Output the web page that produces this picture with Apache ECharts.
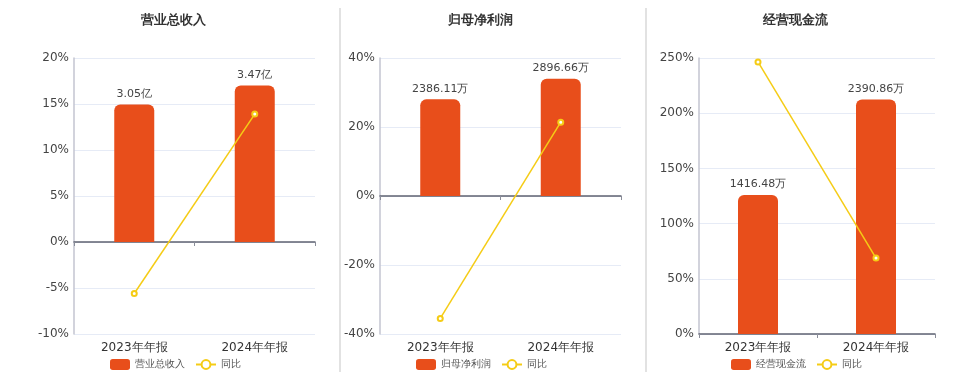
<!DOCTYPE html>
<html><head><meta charset="utf-8">
<script src="https://cdn.jsdelivr.net/npm/echarts@6/dist/echarts.min.js"></script>
<style>html,body{margin:0;padding:0;background:#fff}#c{width:960px;height:372px}</style>
</head><body><div id="c"></div>
<script>
const categories = ['2023年年报', '2024年年报'];
const titles = ['营业总收入', '归母净利润', '经营现金流'];
const units = ['亿', '万', '万'];
const revenue = [3.05, 3.47];
const netProfit = [2386.11, 2896.66];
const cashFlow = [1416.48, 2390.86];
const revenueYoY = [-5.6, 13.9];
const netProfitYoY = [-35.5, 21.4];
const cashFlowYoY = [246.4, 68.79];
const pctMin = [-10, -40, 0];
const pctMax = [20, 40, 250];
const pctInterval = [5, 20, 50];

const barData = [revenue, netProfit, cashFlow];
const yoyData = [revenueYoY, netProfitYoY, cashFlowYoY];
const grids = [{left:74,width:241},{left:380,width:241},{left:699,width:236}];
const titleX = [168, 475, 790];
const legendX = [105, 411, 726];
const BAR = '#e84e1b', LINE = '#f5cc16';
const FONT = 'DejaVu Sans';

const option = {
  animation:false,
  textStyle:{fontFamily:FONT},
  title:[], legend:[], grid:[], xAxis:[], yAxis:[], series:[],
  graphic:[
    {type:'line',shape:{x1:340,y1:8,x2:340,y2:372},style:{stroke:'#d9d9d9',lineWidth:1.5}},
    {type:'line',shape:{x1:646,y1:8,x2:646,y2:372},style:{stroke:'#d9d9d9',lineWidth:1.5}}
  ]
};

for (let i=0;i<3;i++){
  option.title.push({text:titles[i],left:titleX[i],top:9,textAlign:'center',
    textStyle:{fontSize:13,fontWeight:'bold',color:'#333',fontFamily:FONT}});
  option.legend.push({left:legendX[i],top:354,itemWidth:20,itemHeight:11,itemGap:10,
    data:[titles[i],'同比'],textStyle:{fontSize:10,color:'#555',fontFamily:FONT},
    selectedMode:false});
  option.grid.push({left:grids[i].left,width:grids[i].width,top:58,bottom:38});
  option.xAxis.push({type:'category',gridIndex:i,data:categories,
    axisLine:{show:false,onZero:false},axisTick:{show:false},
    axisLabel:{fontSize:12,color:'#333',margin:8}});
  option.xAxis.push({type:'category',gridIndex:i,data:categories,position:'bottom',
    axisLine:{show:true,onZero:true,onZeroAxisIndex:2*i,lineStyle:{color:'#5f6372',width:1.5}},
    axisTick:{show:true,length:4,lineStyle:{color:'#8a8d99'}},axisLabel:{show:false}});
  option.yAxis.push({type:'value',gridIndex:i,min:pctMin[i],max:pctMax[i],interval:pctInterval[i],
    axisLine:{show:true,lineStyle:{color:'#c3c5d0',width:1.5}},axisTick:{show:false},
    axisLabel:{formatter:'{value}%',fontSize:12,color:'#444',margin:5},
    splitLine:{lineStyle:{color:'#e6ebf6'}}});
  const m = Math.max(...barData[i]) / 0.85;
  const ratio = pctMin[i] / pctMax[i];
  option.yAxis.push({type:'value',gridIndex:i,show:false,min:m*ratio,max:m,splitLine:{show:false}});
  const u = units[i];
  option.series.push({name:titles[i],type:'bar',xAxisIndex:2*i,yAxisIndex:2*i+1,
    data:barData[i],barWidth:40,itemStyle:{color:BAR,borderRadius:[6,6,0,0]},
    label:{show:true,position:'top',distance:5,fontSize:11,color:'#444',
      formatter:p=>p.value+u}});
  option.series.push({name:'同比',type:'line',xAxisIndex:2*i,yAxisIndex:2*i,z:5,
    data:yoyData[i],symbol:'emptyCircle',symbolSize:5,
    itemStyle:{color:LINE},lineStyle:{color:LINE,width:1.5}});
}

echarts.init(document.getElementById('c')).setOption(option);
</script></body></html>
